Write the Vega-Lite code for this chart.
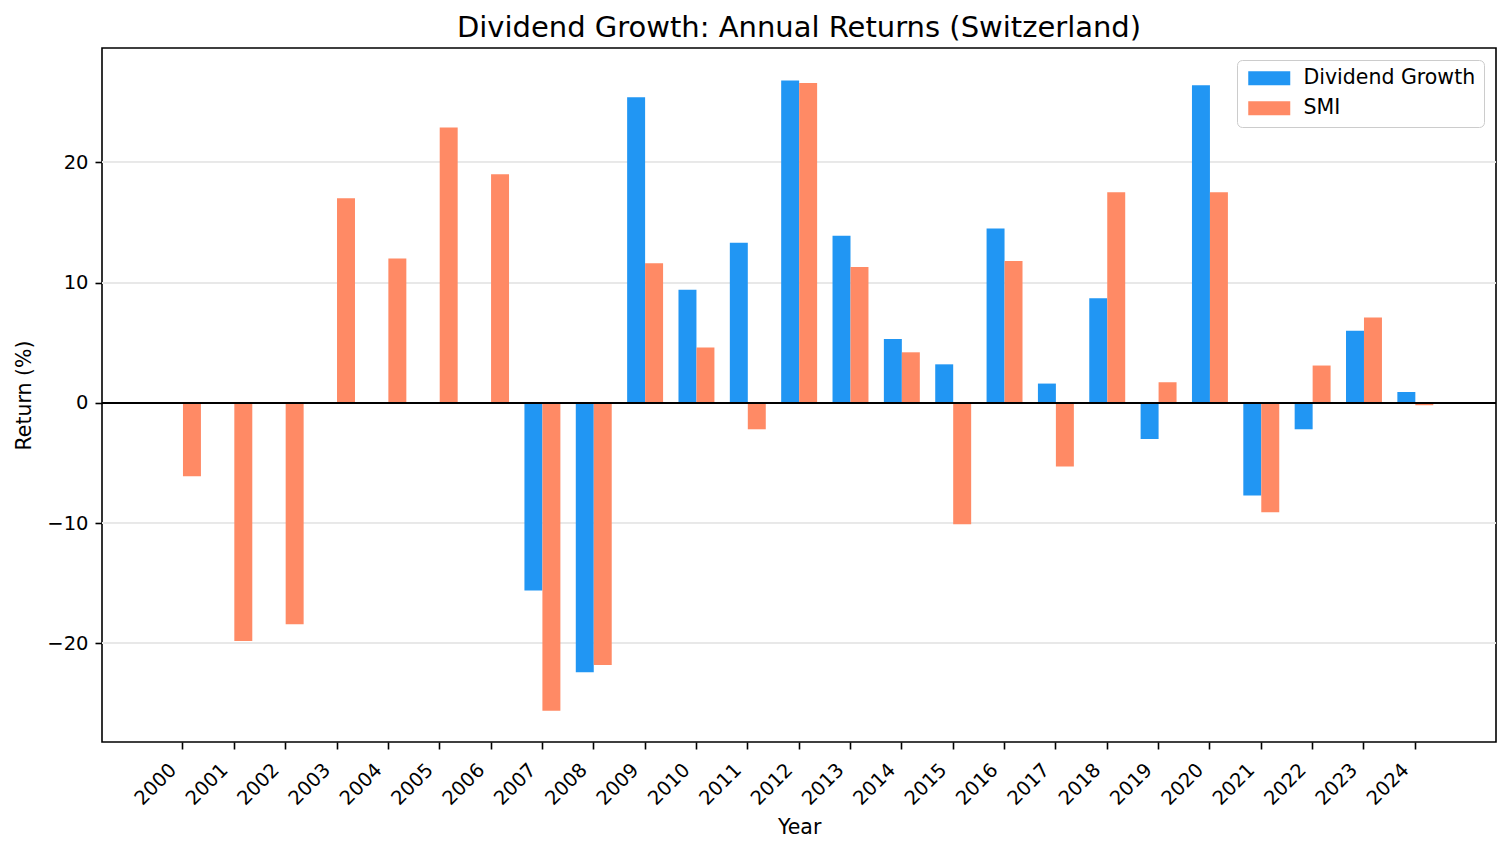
{
  "$schema": "https://vega.github.io/schema/vega-lite/v6.json",
  "width": 1394,
  "height": 694,
  "autosize": "none",
  "padding": {"left": 102, "top": 48, "right": 15, "bottom": 110},
  "background": "white",
  "title": {
    "text": "Dividend Growth: Annual Returns (Switzerland)",
    "font": "DejaVu Sans",
    "fontSize": 29,
    "fontWeight": "normal",
    "color": "black",
    "anchor": "middle",
    "offset": 5
  },
  "config": {
    "font": "DejaVu Sans",
    "view": {"stroke": "black", "strokeWidth": 1.6},
    "axis": {
      "labelFont": "DejaVu Sans",
      "titleFont": "DejaVu Sans",
      "labelFontSize": 19.5,
      "titleFontSize": 20.5,
      "titleFontWeight": "normal",
      "labelColor": "black",
      "titleColor": "black",
      "domainColor": "black",
      "tickColor": "black",
      "tickSize": 7,
      "tickWidth": 1.6
    }
  },
  "data": {
    "values": [
      {"year": "2000", "series": "SMI", "value": -6.1},
      {"year": "2001", "series": "SMI", "value": -19.8},
      {"year": "2002", "series": "SMI", "value": -18.4},
      {"year": "2003", "series": "SMI", "value": 17.0},
      {"year": "2004", "series": "SMI", "value": 12.0},
      {"year": "2005", "series": "SMI", "value": 22.9},
      {"year": "2006", "series": "SMI", "value": 19.0},
      {"year": "2007", "series": "Dividend Growth", "value": -15.6},
      {"year": "2007", "series": "SMI", "value": -25.6},
      {"year": "2008", "series": "Dividend Growth", "value": -22.4},
      {"year": "2008", "series": "SMI", "value": -21.8},
      {"year": "2009", "series": "Dividend Growth", "value": 25.4},
      {"year": "2009", "series": "SMI", "value": 11.6},
      {"year": "2010", "series": "Dividend Growth", "value": 9.4},
      {"year": "2010", "series": "SMI", "value": 4.6},
      {"year": "2011", "series": "Dividend Growth", "value": 13.3},
      {"year": "2011", "series": "SMI", "value": -2.2},
      {"year": "2012", "series": "Dividend Growth", "value": 26.8},
      {"year": "2012", "series": "SMI", "value": 26.6},
      {"year": "2013", "series": "Dividend Growth", "value": 13.9},
      {"year": "2013", "series": "SMI", "value": 11.3},
      {"year": "2014", "series": "Dividend Growth", "value": 5.3},
      {"year": "2014", "series": "SMI", "value": 4.2},
      {"year": "2015", "series": "Dividend Growth", "value": 3.2},
      {"year": "2015", "series": "SMI", "value": -10.1},
      {"year": "2016", "series": "Dividend Growth", "value": 14.5},
      {"year": "2016", "series": "SMI", "value": 11.8},
      {"year": "2017", "series": "Dividend Growth", "value": 1.6},
      {"year": "2017", "series": "SMI", "value": -5.3},
      {"year": "2018", "series": "Dividend Growth", "value": 8.7},
      {"year": "2018", "series": "SMI", "value": 17.5},
      {"year": "2019", "series": "Dividend Growth", "value": -3.0},
      {"year": "2019", "series": "SMI", "value": 1.7},
      {"year": "2020", "series": "Dividend Growth", "value": 26.4},
      {"year": "2020", "series": "SMI", "value": 17.5},
      {"year": "2021", "series": "Dividend Growth", "value": -7.7},
      {"year": "2021", "series": "SMI", "value": -9.1},
      {"year": "2022", "series": "Dividend Growth", "value": -2.2},
      {"year": "2022", "series": "SMI", "value": 3.1},
      {"year": "2023", "series": "Dividend Growth", "value": 6.0},
      {"year": "2023", "series": "SMI", "value": 7.1},
      {"year": "2024", "series": "Dividend Growth", "value": 0.9},
      {"year": "2024", "series": "SMI", "value": -0.2}
    ]
  },
  "layer": [
    {
      "mark": {"type": "rule", "color": "#e8e8e8", "strokeWidth": 1.2},
      "encoding": {"y": {"datum": -20}}
    },
    {
      "mark": {"type": "rule", "color": "#e8e8e8", "strokeWidth": 1.2},
      "encoding": {"y": {"datum": -10}}
    },
    {
      "mark": {"type": "rule", "color": "#e8e8e8", "strokeWidth": 1.2},
      "encoding": {"y": {"datum": 10}}
    },
    {
      "mark": {"type": "rule", "color": "#e8e8e8", "strokeWidth": 1.2},
      "encoding": {"y": {"datum": 20}}
    },
    {
      "mark": {"type": "bar", "cornerRadius": 0},
      "encoding": {
        "x": {
          "field": "year",
          "type": "ordinal",
          "sort": null,
          "scale": {"paddingInner": 0.3, "paddingOuter": 0, "range": [63, 1331.3]},
          "axis": {
            "title": "Year",
            "labelAngle": -45,
            "labelAlign": "right",
            "labelBaseline": "top",
            "labelPadding": 11,
            "labelOffset": -16,
            "titlePadding": 9,
            "domain": false,
            "grid": false
          }
        },
        "xOffset": {
          "field": "series",
          "type": "nominal",
          "scale": {"domain": ["Dividend Growth", "SMI"], "paddingInner": 0, "paddingOuter": 0}
        },
        "y": {
          "field": "value",
          "type": "quantitative",
          "scale": {"domain": [-28.2, 29.5], "nice": false, "zero": false},
          "axis": {
            "title": "Return (%)",
            "values": [-20, -10, 0, 10, 20],
            "grid": false,
            "domain": false,
            "labelPadding": 7,
            "titlePadding": 12
          }
        },
        "y2": {"datum": 0},
        "color": {
          "field": "series",
          "type": "nominal",
          "scale": {"domain": ["Dividend Growth", "SMI"], "range": ["#2196F3", "#FF8A65"]},
          "legend": {
            "title": null,
            "orient": "none",
            "legendX": 1135,
            "legendY": 12,
            "direction": "vertical",
            "fillColor": "white",
            "strokeColor": "#cccccc",
            "cornerRadius": 5,
            "padding": 8,
            "labelFont": "DejaVu Sans",
            "labelFontSize": 20.5,
            "labelColor": "black",
            "labelLimit": 0,
            "labelOffset": 38,
            "rowPadding": 9,
            "symbolType": "M-1,-1H5V1H-1Z",
            "symbolSize": 196,
            "symbolStrokeWidth": 0
          }
        }
      }
    },
    {
      "mark": {"type": "rule", "color": "black", "strokeWidth": 1.3},
      "encoding": {"y": {"datum": 0}}
    }
  ]
}
